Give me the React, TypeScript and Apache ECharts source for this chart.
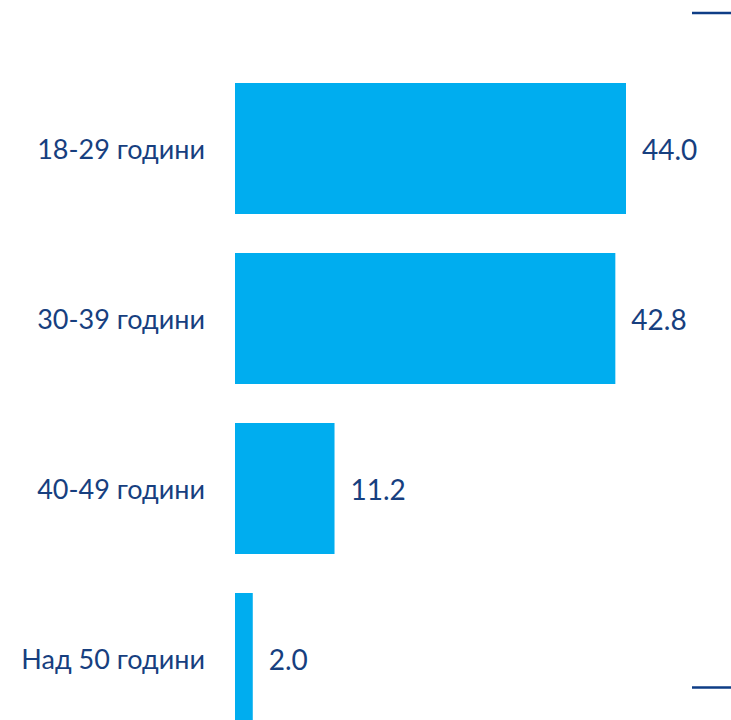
import React, { useEffect, useRef } from "react";
import * as echarts from "echarts";

const categories = ["18-29 години", "30-39 години", "40-49 години", "Над 50 години"];
const values = [44.0, 42.8, 11.2, 2.0];

const BAR = "#00ADEF";
const TEXT = "#173F7F";
const LINE = "#0E3D86";

export default function App() {
  const ref = useRef<HTMLDivElement>(null);
  useEffect(() => {
    const chart = echarts.init(ref.current!, null, { renderer: "svg" });
    chart.setOption({
      animation: false,
      grid: { left: 235, top: 63.5, height: 680, width: 440, containLabel: false },
      xAxis: {
        type: "value",
        min: 0,
        max: 44 * 440 / 391,
        show: false,
      },
      yAxis: {
        type: "category",
        data: categories,
        inverse: true,
        axisLine: { show: false },
        axisTick: { show: false },
        axisLabel: {
          margin: 30,
          fontSize: 27,
          fontWeight: 400,
          color: TEXT,
          fontFamily: "Lato",
        },
      },
      series: [
        {
          type: "bar",
          data: values,
          barWidth: 131,
          itemStyle: { color: BAR },
          label: {
            show: true,
            position: "right",
            distance: 16,
            fontSize: 28,
            fontWeight: 400,
            color: TEXT,
            fontFamily: "Lato",
            formatter: (p: any) => p.value.toFixed(1),
          },
        },
      ],
      graphic: [
        { type: "line", shape: { x1: 692, y1: 13, x2: 731, y2: 13 }, style: { stroke: LINE, lineWidth: 2.5 } },
        { type: "line", shape: { x1: 692, y1: 687.5, x2: 731, y2: 687.5 }, style: { stroke: LINE, lineWidth: 2.5 } },
      ],
    });
    return () => chart.dispose();
  }, []);
  return (
    <div
      ref={ref}
      style={{ position: "absolute", left: 0, top: 0, width: 731, height: 760 }}
    />
  );
}
